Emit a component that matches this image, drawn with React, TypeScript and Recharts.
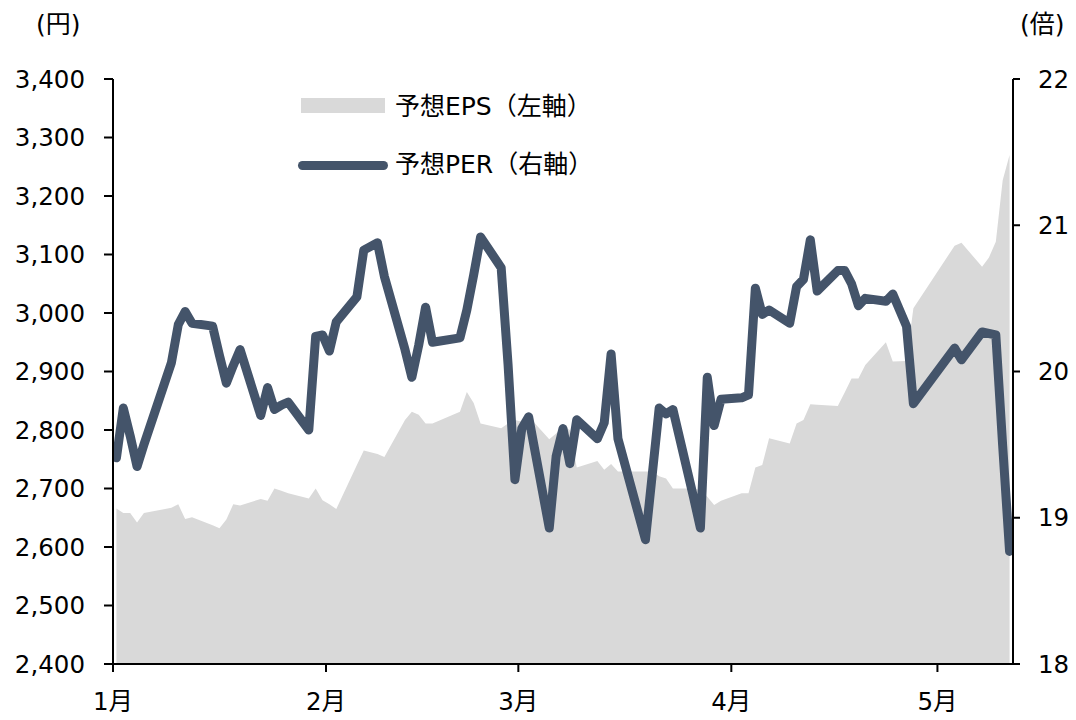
import { ComposedChart, Area, Line, XAxis, YAxis } from 'recharts';

// trading days, counted from the first day on the axis (1/5)
const dayIndex = [
  0, 1, 2, 3, 4, 8, 9, 10, 11, 14, 15, 16, 17, 18, 21, 22, 23, 24, 25,
  28, 29, 30, 31, 32, 35, 36, 38, 39, 42, 43, 44, 45, 46, 50, 51, 52, 53,
  56, 57, 58, 59, 60, 63, 64, 65, 66, 67, 70, 71, 72, 73, 77, 78, 79, 80, 81, 84, 85,
  86, 87, 88, 91, 92, 93, 94, 95, 98, 99, 100, 101, 102, 105, 106, 107, 108, 109, 112, 113, 115,
  116, 122, 123, 126, 127, 128, 129, 130,
];

// 予想EPS (円)
const epsValues = [
  2666, 2658, 2658, 2642, 2658, 2667, 2673, 2648, 2651, 2637, 2632, 2647, 2673, 2671, 2682, 2679, 2700, 2696, 2692,
  2683, 2700, 2680, 2673, 2665, 2740, 2765, 2759, 2754, 2817, 2831, 2826, 2811, 2811, 2831, 2865, 2846, 2811,
  2803, 2811, 2817, 2814, 2823, 2784, 2794, 2806, 2800, 2736, 2747, 2732, 2742, 2729, 2729, 2729, 2721, 2717, 2700, 2700, 2697,
  2686, 2672, 2679, 2692, 2692, 2736, 2740, 2786, 2777, 2811, 2817, 2844, 2843, 2841, 2864, 2888, 2888, 2911, 2950, 2917, 2918,
  3008, 3115, 3120, 3079, 3095, 3122, 3227, 3270,
];

// 予想PER (倍)
const perValues = [
  19.41, 19.75, 19.56, 19.35, 19.5, 20.06, 20.32, 20.41, 20.33, 20.31, 20.11, 19.92, 20.04, 20.15, 19.7, 19.89, 19.74, 19.77, 19.79,
  19.6, 20.24, 20.25, 20.14, 20.34, 20.51, 20.83, 20.88, 20.65, 20.15, 19.96, 20.18, 20.44, 20.2, 20.23, 20.42, 20.66, 20.92,
  20.71, 20.05, 19.26, 19.61, 19.69, 18.93, 19.42, 19.61, 19.37, 19.67, 19.54, 19.65, 20.12, 19.54, 18.85, 19.3, 19.75, 19.71, 19.74, 19.14, 18.93,
  19.96, 19.63, 19.81, 19.82, 19.84, 20.57, 20.39, 20.42, 20.33, 20.58, 20.63, 20.9, 20.55, 20.69, 20.69, 20.6, 20.45, 20.5, 20.48, 20.53, 20.31,
  19.78, 20.16, 20.08, 20.27, 20.26, 20.25, 19.49, 18.77,
];

const monthTicks = [-0.5, 30.5, 58.5, 89.5, 119.5];
const monthLabels = ['1月', '2月', '3月', '4月', '5月'];
const epsTicks = [2400, 2500, 2600, 2700, 2800, 2900, 3000, 3100, 3200, 3300, 3400];
const perTicks = [18, 19, 20, 21, 22];

const FONT = '"DejaVu Sans", "Noto Sans CJK JP", sans-serif';
const LINE_COLOR = '#44546A';
const AREA_COLOR = '#D9D9D9';

const data = dayIndex.map((d, i) => ({ d, eps: epsValues[i], per: perValues[i] }));

const axisStyle = { stroke: '#000', strokeWidth: 2 };
const tickStyle = { fill: '#000', fontSize: 24.5 };

export default function App() {
  return (
    <div style={{ position: 'relative', width: 1076, height: 720, fontFamily: FONT, background: '#fff' }}>
      <style>{'body{margin:0}'}</style>
      <div style={{ position: 'absolute', left: 36, top: 9, fontSize: 25, lineHeight: '32px' }}>(円)</div>
      <div style={{ position: 'absolute', left: 1020, top: 9, fontSize: 25, lineHeight: '32px' }}>(倍)</div>

      <ComposedChart width={1076} height={720} data={data} margin={{ top: 79, right: 0, bottom: 0, left: 0 }}>
        <XAxis
          dataKey="d"
          type="number"
          domain={[-0.5, 130.5]}
          ticks={monthTicks}
          interval={0}
          allowDataOverflow
          tickFormatter={(v: number) => monthLabels[monthTicks.indexOf(v)]}
          axisLine={axisStyle}
          tickLine={axisStyle}
          tickSize={8}
          tickMargin={21}
          tick={tickStyle}
          height={56}
        />
        <YAxis
          yAxisId="eps"
          domain={[2400, 3400]}
          ticks={epsTicks}
          interval={0}
          tickFormatter={(v: number) => v.toLocaleString('en-US')}
          axisLine={axisStyle}
          tickLine={axisStyle}
          tickSize={9}
          tickMargin={19}
          tick={tickStyle}
          width={113}
        />
        <YAxis
          yAxisId="per"
          orientation="right"
          domain={[18, 22]}
          ticks={perTicks}
          interval={0}
          axisLine={axisStyle}
          tickLine={axisStyle}
          tickSize={7}
          tickMargin={18}
          tick={tickStyle}
          width={63}
        />
        <Area
          yAxisId="eps"
          dataKey="eps"
          type="linear"
          fill={AREA_COLOR}
          fillOpacity={1}
          stroke="none"
          isAnimationActive={false}
        />
        <Line
          yAxisId="per"
          dataKey="per"
          type="linear"
          stroke={LINE_COLOR}
          strokeWidth={9}
          strokeLinecap="round"
          strokeLinejoin="round"
          dot={false}
          activeDot={false}
          isAnimationActive={false}
        />
      </ComposedChart>

      {/* legend */}
      <div style={{ position: 'absolute', left: 301, top: 98, width: 84, height: 15, background: AREA_COLOR }} />
      <div style={{ position: 'absolute', left: 395, top: 91, fontSize: 25, lineHeight: '32px', whiteSpace: 'nowrap' }}>
        予想EPS（左軸）
      </div>
      <div style={{ position: 'absolute', left: 298, top: 161, width: 90, height: 9, borderRadius: 5, background: LINE_COLOR }} />
      <div style={{ position: 'absolute', left: 395, top: 149, fontSize: 25, lineHeight: '32px', whiteSpace: 'nowrap' }}>
        予想PER（右軸）
      </div>
    </div>
  );
}
